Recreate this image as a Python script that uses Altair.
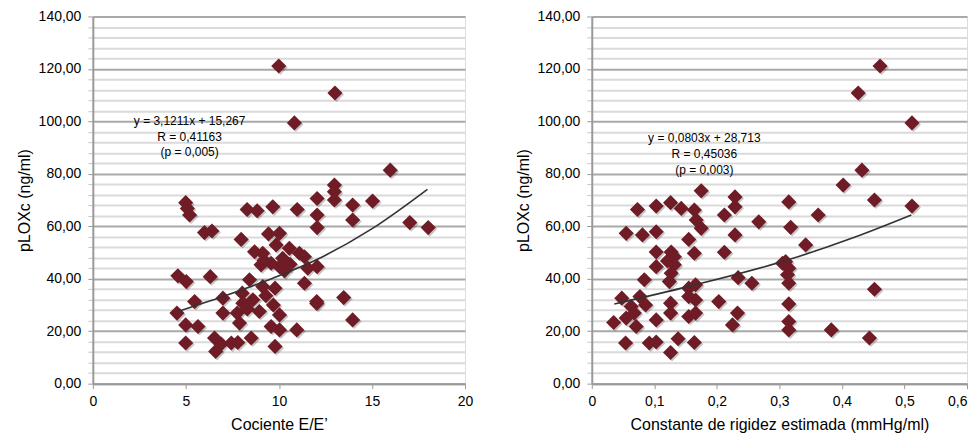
import altair as alt
import pandas as pd

# ---- Left panel data: Cociente E/E' vs pLOXc ----
ee_x = [15.98, 12.98, 12.98, 12.98, 12.05, 12.05, 12.05, 13.96, 13.96, 15.03, 17.03, 18.02,
        4.99, 5.08, 5.2, 6.0, 6.4, 8.29, 8.83, 9.67, 10.98, 7.97, 9.44, 10.03, 9.85, 10.56,
        11.1, 11.37, 8.69, 9.13, 9.04, 9.58, 10.03, 10.2, 11.55, 12.05, 4.57, 5.02, 6.31,
        8.42, 9.13, 9.79, 11.37, 8.03, 8.06, 8.6, 8.95, 6.99, 6.99, 5.47, 4.52, 4.99, 5.65,
        7.76, 7.88, 9.58, 10.03, 10.03, 10.96, 12.03, 12.03, 13.48, 13.96, 4.99, 6.54, 6.6,
        6.9, 7.44, 7.79, 8.51, 9.79, 9.99, 13.01, 10.83, 9.3, 9.7, 8.3, 10.3, 9.2, 10.6]
ee_y = [81.4, 75.7, 73.2, 70.0, 70.6, 64.3, 59.5, 68.1, 62.4, 69.6, 61.4, 59.5,
        69.0, 66.8, 64.3, 57.6, 58.2, 66.4, 65.9, 67.4, 66.4, 55.0, 57.1, 57.3, 52.9, 51.6,
        49.7, 48.4, 50.3, 49.7, 45.3, 45.9, 44.6, 47.8, 44.0, 44.6, 41.1, 38.9, 40.8,
        39.6, 37.0, 36.4, 38.3, 34.5, 30.7, 32.0, 27.5, 32.6, 26.9, 31.3, 26.9, 22.4, 21.8,
        26.9, 23.1, 21.8, 26.2, 20.5, 20.5, 31.3, 30.6, 32.8, 24.3, 15.5, 17.4, 12.3,
        15.1, 15.5, 15.7, 17.4, 14.2, 121.1, 110.8, 99.4, 33.5, 30.0, 28.5, 43.0, 47.0, 45.5]
ee_trend_x = [4.57, 6.99, 9.67, 12.35, 15.03, 17.98]
ee_trend_y = [27.5, 33.2, 40.2, 48.4, 59.2, 74.1]
ee_text = ["y = 3,1211x + 15,267", "R = 0,41163", "(p = 0,005)"]

# ---- Right panel data: Constante de rigidez vs pLOXc ----
k_x = [0.432, 0.402, 0.452, 0.512, 0.362, 0.342, 0.315, 0.318, 0.310, 0.315, 0.313, 0.315,
       0.315, 0.315, 0.315, 0.305, 0.452, 0.383, 0.444, 0.267, 0.256, 0.234, 0.229, 0.229,
       0.212, 0.229, 0.212, 0.203, 0.233, 0.225, 0.175, 0.164, 0.167, 0.175, 0.143, 0.126,
       0.103, 0.073, 0.055, 0.081, 0.103, 0.155, 0.164, 0.103, 0.127, 0.132, 0.121, 0.132,
       0.103, 0.127, 0.124, 0.084, 0.155, 0.166, 0.155, 0.166, 0.155, 0.166, 0.126, 0.126,
       0.103, 0.048, 0.063, 0.077, 0.086, 0.068, 0.055, 0.035, 0.071, 0.054, 0.092, 0.103,
       0.126, 0.138, 0.164, 0.461, 0.426, 0.512]
k_y = [81.4, 75.7, 70.0, 67.7, 64.3, 52.9, 69.3, 59.6, 46.5, 44.0, 41.5, 38.3,
       30.4, 23.7, 20.5, 45.9, 36.0, 20.5, 17.4, 61.7, 38.3, 40.4, 71.2, 67.4,
       64.3, 56.7, 50.1, 31.3, 26.9, 22.4, 73.5, 66.2, 62.4, 59.2, 66.8, 69.0,
       67.7, 66.4, 57.3, 56.7, 57.9, 55.0, 49.7, 50.2, 50.2, 48.4, 46.8, 45.3,
       44.6, 42.1, 38.9, 39.6, 36.4, 37.7, 33.2, 31.9, 25.6, 26.9, 30.7, 26.9,
       24.3, 32.6, 29.4, 33.2, 30.0, 26.9, 25.0, 23.3, 21.8, 15.5, 15.5, 15.9,
       11.9, 17.1, 15.7, 121.1, 110.8, 99.4]
k_trend_x = [0.036, 0.154, 0.314, 0.420, 0.511]
k_trend_y = [30.4, 37.0, 47.2, 55.8, 64.3]
k_text = ["y = 0,0803x + 28,713", "R = 0,45036", "(p = 0,003)"]

FONT = "Liberation Sans"
MARKER = "#701c26"
Y_TITLE = "pLOXc (ng/ml)"
y_grid_values = list(range(0, 141, 4))


def panel(xs, ys, tx, ty, texts, text_x, text_y0, xdomain, xvalues, xlabel_expr, xtitle,
          width, last_right=False):
    pts = pd.DataFrame({"x": xs, "y": ys})
    trend = pd.DataFrame({"x": tx, "y": ty})
    ann = pd.DataFrame({"x": [text_x] * 3,
                        "y": [text_y0 - i * 6.0 for i in range(3)],
                        "t": texts})

    extra = {}
    if last_right:
        extra["labelAlign"] = {"condition": {"test": f"datum.value >= {xdomain[1]}",
                                             "value": "right"}, "value": "center"}
    x_axis = alt.Axis(values=xvalues, tickCount=len(xvalues), labelExpr=xlabel_expr, grid=False,
                      title=xtitle, labelFont=FONT, titleFont=FONT, labelFontSize=14,
                      titleFontSize=16, titleFontWeight="normal", labelColor="#000",
                      titleColor="#000", domainColor="#9a9a9a", domainWidth=2,
                      tickColor="#9a9a9a", tickSize=5, labelPadding=6, titlePadding=8,
                      labelFlush=False, **extra)
    y_axis = alt.Axis(values=y_grid_values, tickCount=60,
                      labelExpr="datum.value % 20 === 0 ? replace(format(datum.value, '.2f'), '.', ',') : ''",
                      gridColor={"condition": {"test": "datum.value % 20 === 0", "value": "#a9a9a9"},
                                 "value": "#dadada"},
                      tickColor={"condition": {"test": "datum.value % 20 === 0", "value": "#9a9a9a"},
                                 "value": "#c8c8c8"},
                      gridWidth=2, title=Y_TITLE, labelFont=FONT, titleFont=FONT,
                      labelFontSize=14, titleFontSize=16, titleFontWeight="normal",
                      labelColor="#000", titleColor="#000", domainColor="#9a9a9a",
                      domainWidth=2, tickSize=5, labelPadding=7, titlePadding=6,
                      labelOverlap=False, labelFlush=False)

    xs_scale = alt.Scale(domain=xdomain, nice=False, zero=False)
    ys_scale = alt.Scale(domain=[0, 140], nice=False)

    shadow = alt.Chart(pts).mark_point(shape="diamond", filled=True, size=230, color="#000000",
                                       opacity=0.22, xOffset=1.5, yOffset=1.5).encode(
        x=alt.X("x:Q", scale=xs_scale, axis=x_axis),
        y=alt.Y("y:Q", scale=ys_scale, axis=y_axis),
    )
    dots = alt.Chart(pts).mark_point(shape="diamond", filled=True, size=230, color=MARKER,
                                     opacity=1).encode(
        x=alt.X("x:Q", scale=xs_scale),
        y=alt.Y("y:Q", scale=ys_scale),
    )
    line = alt.Chart(trend).mark_line(color="#333333", strokeWidth=1.6,
                                      interpolate="monotone").encode(
        x=alt.X("x:Q", scale=xs_scale),
        y=alt.Y("y:Q", scale=ys_scale),
    )
    txt = alt.Chart(ann).mark_text(font=FONT, fontSize=12, color="#000", align="center",
                                   baseline="middle").encode(
        x=alt.X("x:Q", scale=xs_scale),
        y=alt.Y("y:Q", scale=ys_scale),
        text="t:N",
    )
    return alt.layer(shadow, dots, line, txt).properties(width=width, height=368)


left = panel(ee_x, ee_y, ee_trend_x, ee_trend_y, ee_text, 5.2, 100.2,
             [0, 20], [0, 5, 10, 15, 20], "datum.label", "Cociente E/E’", 373)
right = panel(k_x, k_y, k_trend_x, k_trend_y, k_text, 0.18, 93.5,
              [0, 0.6], [0, 0.1, 0.2, 0.3, 0.4, 0.5, 0.6],
              "datum.value == 0 ? '0' : replace(format(datum.value, '.1f'), '.', ',')",
              "Constante de rigidez estimada (mmHg/ml)", 376, last_right=True)

chart = alt.hconcat(left, right, spacing=40).properties(
    padding={"left": 7, "top": 0, "right": 0, "bottom": 0}
).configure_view(stroke=None).configure(background="#ffffff")

chart.save("out.html", embed_options={"renderer": "svg", "actions": False})
